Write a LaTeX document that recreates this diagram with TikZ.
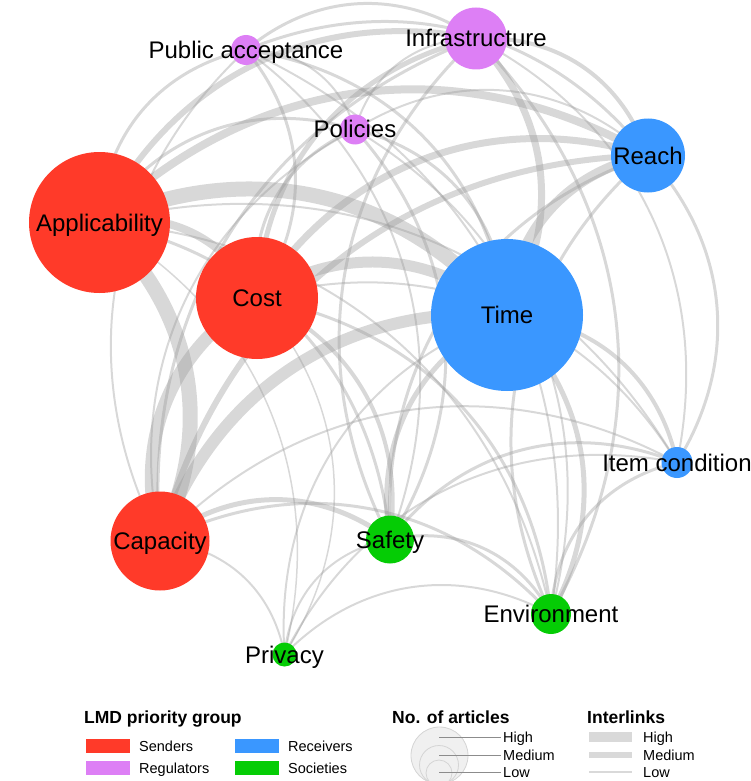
\documentclass[tikz,border=0pt]{standalone}
\usepackage{fontspec}
\setmainfont{Liberation Sans}
\usetikzlibrary{backgrounds}
\definecolor{sendc}{RGB}{255,58,41}
\definecolor{regc}{RGB}{221,127,245}
\definecolor{recc}{RGB}{58,151,255}
\definecolor{socc}{RGB}{5,204,5}
\definecolor{edgec}{RGB}{150,150,150}
\definecolor{legbar}{RGB}{217,217,217}
\begin{document}
\begin{tikzpicture}[x=1pt,y=-1pt,
  vtx/.style={circle, inner sep=0pt, outer sep=0pt, minimum size=#1},
  lbl/.style={font=\fontsize{24}{28}\selectfont, inner sep=0pt, text height=17pt, text depth=0pt},
  edge/.style={draw=edgec, draw opacity=0.37},
  legtitle/.style={font=\fontsize{17.5}{20}\selectfont\bfseries, inner sep=0pt, anchor=base west},
  legitem/.style={font=\fontsize{14.5}{17}\selectfont, inner sep=0pt, anchor=base west},
  swatch/.style={inner sep=0pt, minimum width=44pt, minimum height=14pt},
  sizecirc/.style={draw={rgb,255:red,212;green,212;blue,212}, line width=0.8pt},
  pointer/.style={draw={rgb,255:red,140;green,140;blue,140}, line width=0.7pt},
 ]
\useasboundingbox (0,0) rectangle (751,781);

% vertices
\node[vtx=30pt, fill=regc] (PA) at (246,50) {};
\node[vtx=62pt, fill=regc] (IN) at (476,38.5) {};
\node[vtx=30pt, fill=regc] (PO) at (355,129.5) {};
\node[vtx=74pt, fill=recc] (RE) at (648,155.5) {};
\node[vtx=141pt, fill=sendc] (AP) at (99.5,222.5) {};
\node[vtx=122pt, fill=sendc] (CO) at (257,298) {};
\node[vtx=152pt, fill=recc] (TI) at (507,315) {};
\node[vtx=31pt, fill=recc] (IC) at (677,462.5) {};
\node[vtx=99pt, fill=sendc] (CA) at (160,541) {};
\node[vtx=48pt, fill=socc] (SA) at (390,539.5) {};
\node[vtx=40pt, fill=socc] (EN) at (551,614) {};
\node[vtx=24pt, fill=socc] (PR) at (284.5,654.5) {};

% interlinks
\begin{scope}[on background layer]
\foreach \a/\b/\w in {
  AP/TI/15, AP/CA/15, CA/CO/13, CA/TI/12, CO/TI/11, TI/RE/10,
  AP/CO/8, AP/RE/8, CO/RE/7, IN/TI/7, AP/IN/6, CA/RE/6,
  CO/IN/5, SA/TI/5, TI/EN/5, CA/SA/5, TI/IC/4, CO/SA/4, IN/RE/4,
  AP/SA/3, SA/EN/3, PA/TI/3, AP/PA/3, PA/CO/3, PO/TI/3, AP/PO/3,
  CO/PO/3, RE/IC/3, EN/RE/3, SA/RE/3, EN/IC/3, SA/IC/3, CA/EN/3,
  CO/EN/3, AP/EN/2, PR/SA/2, PR/EN/2, PR/TI/2, CA/PR/2, PR/IC/2,
  CO/PR/1.5, PA/IN/3, PA/PO/2, CA/PA/2, PA/SA/2, PA/RE/3, PO/IN/2,
  PO/RE/2, PO/SA/3, CA/PO/2, PO/EN/2, CA/IN/3, SA/IN/3, IN/EN/3,
  IN/IC/2, AP/IC/2, CO/IC/2, CA/IC/2, PA/EN/2, AP/PR/1.5}
  \draw[edge, line width=\w pt] (\a.center) to[bend left=37] (\b.center);
\end{scope}

% labels
\node[lbl] (PAt) at (PA) {Public acceptance};
\node[lbl] (INt) at (IN) {Infrastructure};
\node[lbl] (POt) at (PO) {Policies};
\node[lbl] (REt) at (RE) {Reach};
\node[lbl] (APt) at (AP) {Applicability};
\node[lbl] (COt) at (CO) {Cost};
\node[lbl] (TIt) at (TI) {Time};
\node[lbl] (ICt) at (IC) {Item condition};
\node[lbl] (CAt) at (CA) {Capacity};
\node[lbl] (SAt) at (SA) {Safety};
\node[lbl] (ENt) at (EN) {Environment};
\node[lbl] (PRt) at (PR) {Privacy};

% legend: priority group
\node[legtitle] (lg1) at (84,723) {LMD priority group};
\node[swatch, fill=sendc] (sw1) at (108,745.5) {};
\node[swatch, fill=regc] (sw2) at (108,768) {};
\node[swatch, fill=recc] (sw3) at (257,745.5) {};
\node[swatch, fill=socc] (sw4) at (257,768) {};
\node[legitem] (li1) at (139,751) {Senders};
\node[legitem] (li2) at (139,773.5) {Regulators};
\node[legitem] (li3) at (288,751) {Receivers};
\node[legitem] (li4) at (288,773.5) {Societies};

% legend: number of articles
\node[legtitle] (lg2) at (392,723) {No. of articles};
\node[circle, inner sep=0pt, minimum size=57pt, sizecirc, fill={rgb,255:red,240;green,240;blue,240}] (cH) at (439.5,755.5) {};
\node[circle, inner sep=0pt, minimum size=39pt, sizecirc] (cM) at (439,765) {};
\node[circle, inner sep=0pt, minimum size=26pt, sizecirc] (cL) at (439,773) {};
\coordinate (pH) at (439,737);
\coordinate (pM) at (439,755);
\coordinate (pL) at (439,772);
\node[legitem] (nH) at (503,742) {High};
\node[legitem] (nM) at (503,760) {Medium};
\node[legitem] (nL) at (503,777) {Low};
\draw[pointer] (pH) -- ([xshift=-2pt]nH.base west |- pH);
\draw[pointer] (pM) -- ([xshift=-2pt]nM.base west |- pM);
\draw[pointer] (pL) -- ([xshift=-2pt]nL.base west |- pL);

% legend: interlinks
\node[legtitle] (lg3) at (587,723) {Interlinks};
\coordinate (bH1) at (589,737); \coordinate (bH2) at (632,737);
\coordinate (bM1) at (589,755); \coordinate (bM2) at (632,755);
\coordinate (bL1) at (589,772); \coordinate (bL2) at (632,772);
\draw[draw=legbar, line width=10pt] (bH1) -- (bH2);
\draw[draw=legbar, line width=6pt] (bM1) -- (bM2);
\draw[draw=legbar, line width=2pt] (bL1) -- (bL2);
\node[legitem] (iH) at (643,742) {High};
\node[legitem] (iM) at (643,760) {Medium};
\node[legitem] (iL) at (643,777) {Low};
\end{tikzpicture}
\end{document}
